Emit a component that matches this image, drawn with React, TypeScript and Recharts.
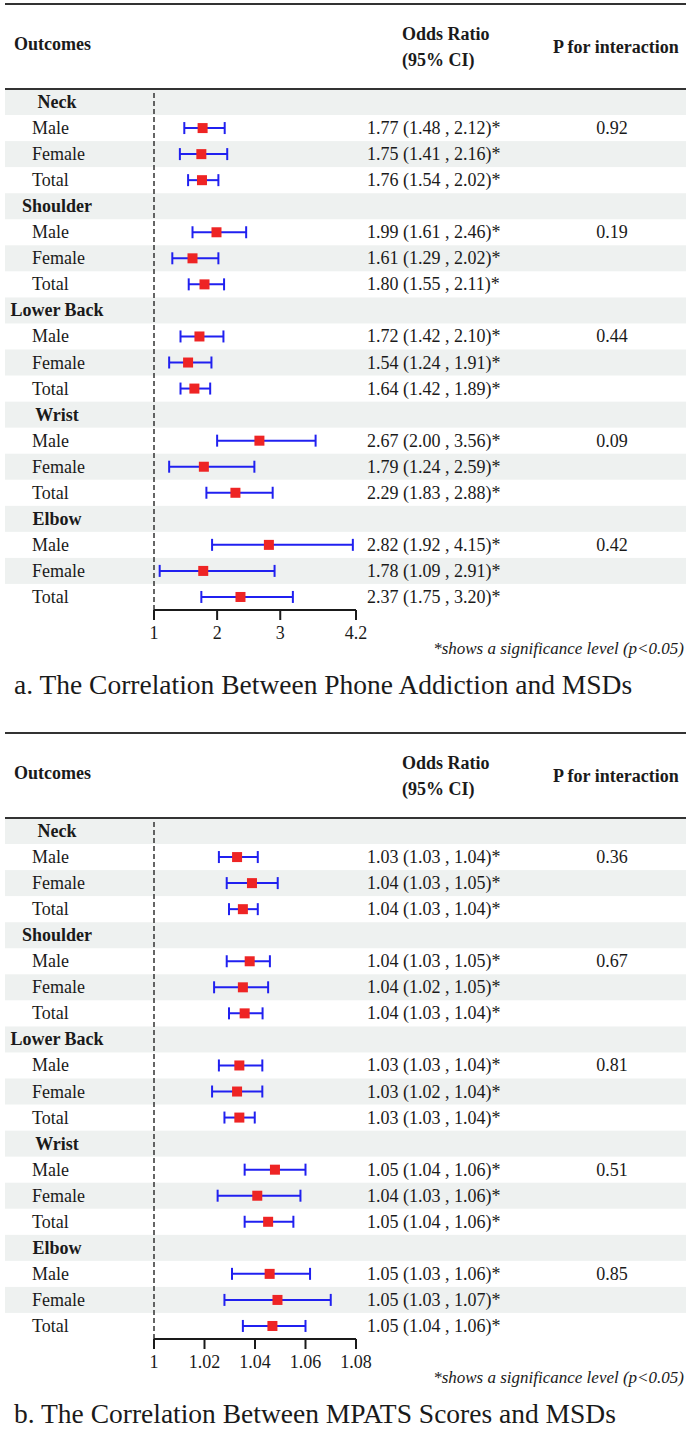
import { Bar, ComposedChart, ReferenceLine, Scatter, XAxis, YAxis } from "recharts";

const FONT = "Liberation Serif, Times New Roman, serif";
const WIDTH = 691;
const ROW_H = 26;
const STRIPE = "#eef1f0";
const CI_BLUE = "#2020f0";
const POINT_RED = "#ee2424";
const INK = "#1a1a1a";

const SITES = ["Neck", "Shoulder", "Lower Back", "Wrist", "Elbow"];
const GROUPS = ["Male", "Female", "Total"];

// phone addiction vs MSDs (Male, Female, Total per site)
const PA_OR = [1.77, 1.75, 1.76, 1.99, 1.61, 1.8, 1.72, 1.54, 1.64, 2.67, 1.79, 2.29, 2.82, 1.78, 2.37];
const PA_LO = [1.48, 1.41, 1.54, 1.61, 1.29, 1.55, 1.42, 1.24, 1.42, 2.0, 1.24, 1.83, 1.92, 1.09, 1.75];
const PA_HI = [2.12, 2.16, 2.02, 2.46, 2.02, 2.11, 2.1, 1.91, 1.89, 3.56, 2.59, 2.88, 4.15, 2.91, 3.2];
const PA_P = ["0.92", "0.19", "0.44", "0.09", "0.42"];
const PA_TICKS = [1, 2, 3, 4.2];

// MPATS scores vs MSDs
const MP_OR = [1.0329, 1.0388, 1.0352, 1.0379, 1.0352, 1.0359, 1.0338, 1.0329, 1.0338, 1.0479, 1.0409, 1.0452, 1.0458, 1.0489, 1.0469];
const MP_LO = [1.0257, 1.0288, 1.0297, 1.0288, 1.0238, 1.0297, 1.0257, 1.023, 1.0279, 1.0359, 1.0252, 1.0359, 1.0309, 1.0279, 1.0352];
const MP_HI = [1.0411, 1.049, 1.0411, 1.0459, 1.0452, 1.043, 1.0429, 1.0429, 1.0399, 1.06, 1.058, 1.0552, 1.0618, 1.07, 1.06];
const MP_P = ["0.36", "0.67", "0.81", "0.51", "0.85"];
const MP_TICKS = [1, 1.02, 1.04, 1.06, 1.08];

type Row = {
  id: string;
  site?: string;
  group?: string;
  or?: number | null;
  ci?: [number, number] | null;
  text?: string;
  p?: string;
};

function buildRows(or: number[], lo: number[], hi: number[], p: string[]): Row[] {
  const rows: Row[] = [];
  SITES.forEach((site, s) => {
    rows.push({ id: site, site, or: null, ci: null });
    GROUPS.forEach((group, g) => {
      const i = s * 3 + g;
      rows.push({
        id: `${site}-${group}`,
        group,
        or: or[i],
        ci: [lo[i], hi[i]],
        text: `${or[i].toFixed(2)} (${lo[i].toFixed(2)} , ${hi[i].toFixed(2)})*`,
        p: g === 0 ? p[s] : undefined,
      });
    });
  });
  return rows;
}

// y ticks carry the table text of each row
const RowTick = (props: any) => {
  const { y, index, rows } = props;
  const row: Row = rows[index];
  if (!row) return <g />;
  return (
    <g style={{ fontFamily: FONT, fontSize: 18 }} fill={INK}>
      {row.site ? (
        <text x={57} y={y} textAnchor="middle" dominantBaseline="central" fontWeight="bold">
          {row.site}
        </text>
      ) : (
        <text x={32} y={y} dominantBaseline="central">
          {row.group}
        </text>
      )}
      {row.text && (
        <text x={367} y={y} dominantBaseline="central">
          {row.text}
        </text>
      )}
      {row.p && (
        <text x={612} y={y} textAnchor="middle" dominantBaseline="central">
          {row.p}
        </text>
      )}
    </g>
  );
};

// zebra stripes: the Male row also paints the site header row above it,
// the Female row paints itself; Total rows stay white
const StripeShape = (props: any) => {
  const { y, height, index } = props;
  if (!Number.isFinite(y)) return <g />;
  const cy = y + height / 2;
  const slot = index % 3;
  if (slot === 0) {
    return <rect x={5} y={cy - ROW_H * 1.5} width={681} height={ROW_H} fill={STRIPE} />;
  }
  if (slot === 1) {
    return <rect x={5} y={cy - ROW_H / 2} width={681} height={ROW_H} fill={STRIPE} />;
  }
  return <g />;
};

// confidence interval whisker drawn from the range bar's box
const CIShape = (props: any) => {
  const { x, y, width, height, payload } = props;
  if (!payload || !payload.ci) return null;
  const cy = y + height / 2;
  return (
    <g stroke={CI_BLUE} strokeWidth={2}>
      <line x1={x} y1={cy} x2={x + width} y2={cy} />
      <line x1={x} y1={y} x2={x} y2={y + height} />
      <line x1={x + width} y1={y} x2={x + width} y2={y + height} />
    </g>
  );
};

const PointShape = (props: any) => {
  const { cx, cy, payload } = props;
  if (!payload || payload.or == null || !Number.isFinite(cx)) return null;
  return <rect x={cx - 5} y={cy - 5} width={10} height={10} fill={POINT_RED} />;
};

function ForestPanel({
  rows,
  domain,
  ticks,
  title,
}: {
  rows: Row[];
  domain: [number, number];
  ticks: number[];
  title: string;
}) {
  return (
    <div style={{ position: "relative", width: WIDTH, height: 720 }}>
      <ComposedChart
        width={WIDTH}
        height={642}
        data={rows}
        layout="vertical"
        barCategoryGap={0}
        margin={{ top: 89, right: 335, bottom: 0, left: 0 }}
      >
        <YAxis
          type="category"
          dataKey="id"
          width={154}
          interval={0}
          axisLine={false}
          tickLine={false}
          tick={(p: any) => <RowTick {...p} rows={rows} />}
        />
        <XAxis
          type="number"
          domain={domain}
          ticks={ticks}
          interval={0}
          allowDataOverflow
          height={32}
          tickSize={10}
          tickMargin={6}
          axisLine={{ stroke: INK, strokeWidth: 2 }}
          tickLine={{ stroke: INK, strokeWidth: 2 }}
          tick={{ fill: INK, fontSize: 18, style: { fontFamily: FONT } }}
        />
        <Bar
          dataKey="ci"
          barSize={12}
          background={<StripeShape />}
          shape={<CIShape />}
          isAnimationActive={false}
        />
        <ReferenceLine x={1} stroke="#333" strokeWidth={1.5} strokeDasharray="5 3" />
        <Scatter dataKey="or" shape={<PointShape />} isAnimationActive={false} />
      </ComposedChart>
      <svg
        width={WIDTH}
        height={720}
        style={{ position: "absolute", left: 0, top: 0, pointerEvents: "none", fontFamily: FONT }}
        fill={INK}
      >
        <line x1={5} y1={4} x2={686} y2={4} stroke="#333" strokeWidth={2} />
        <line x1={5} y1={89} x2={686} y2={89} stroke="#333" strokeWidth={2} />
        <g fontWeight="bold" fontSize={18}>
          <text x={14} y={44} dominantBaseline="central">Outcomes</text>
          <text x={402} y={34} dominantBaseline="central">Odds Ratio</text>
          <text x={402} y={60} dominantBaseline="central">(95% CI)</text>
          <text x={553} y={47} dominantBaseline="central">P for interaction</text>
        </g>
        <text x={684} y={648} fontSize={17} fontStyle="italic" textAnchor="end" dominantBaseline="central">
          *shows a significance level (p&lt;0.05)
        </text>
        <text x={14} y={684} fontSize={27.5} dominantBaseline="central">
          {title}
        </text>
      </svg>
    </div>
  );
}

const PA_ROWS = buildRows(PA_OR, PA_LO, PA_HI, PA_P);
const MP_ROWS = buildRows(MP_OR, MP_LO, MP_HI, MP_P);

export default function App() {
  return (
    <div style={{ position: "absolute", left: 0, top: 0, width: WIDTH, height: 1437, background: "#fff", fontFamily: FONT }}>
      <div style={{ position: "absolute", left: 0, top: 0 }}>
        <ForestPanel
          rows={PA_ROWS}
          domain={[1, 4.2]}
          ticks={PA_TICKS}
          title="a. The Correlation Between Phone Addiction and MSDs"
        />
      </div>
      <div style={{ position: "absolute", left: 0, top: 729 }}>
        <ForestPanel
          rows={MP_ROWS}
          domain={[1, 1.08]}
          ticks={MP_TICKS}
          title="b. The Correlation Between MPATS Scores and MSDs"
        />
      </div>
    </div>
  );
}
